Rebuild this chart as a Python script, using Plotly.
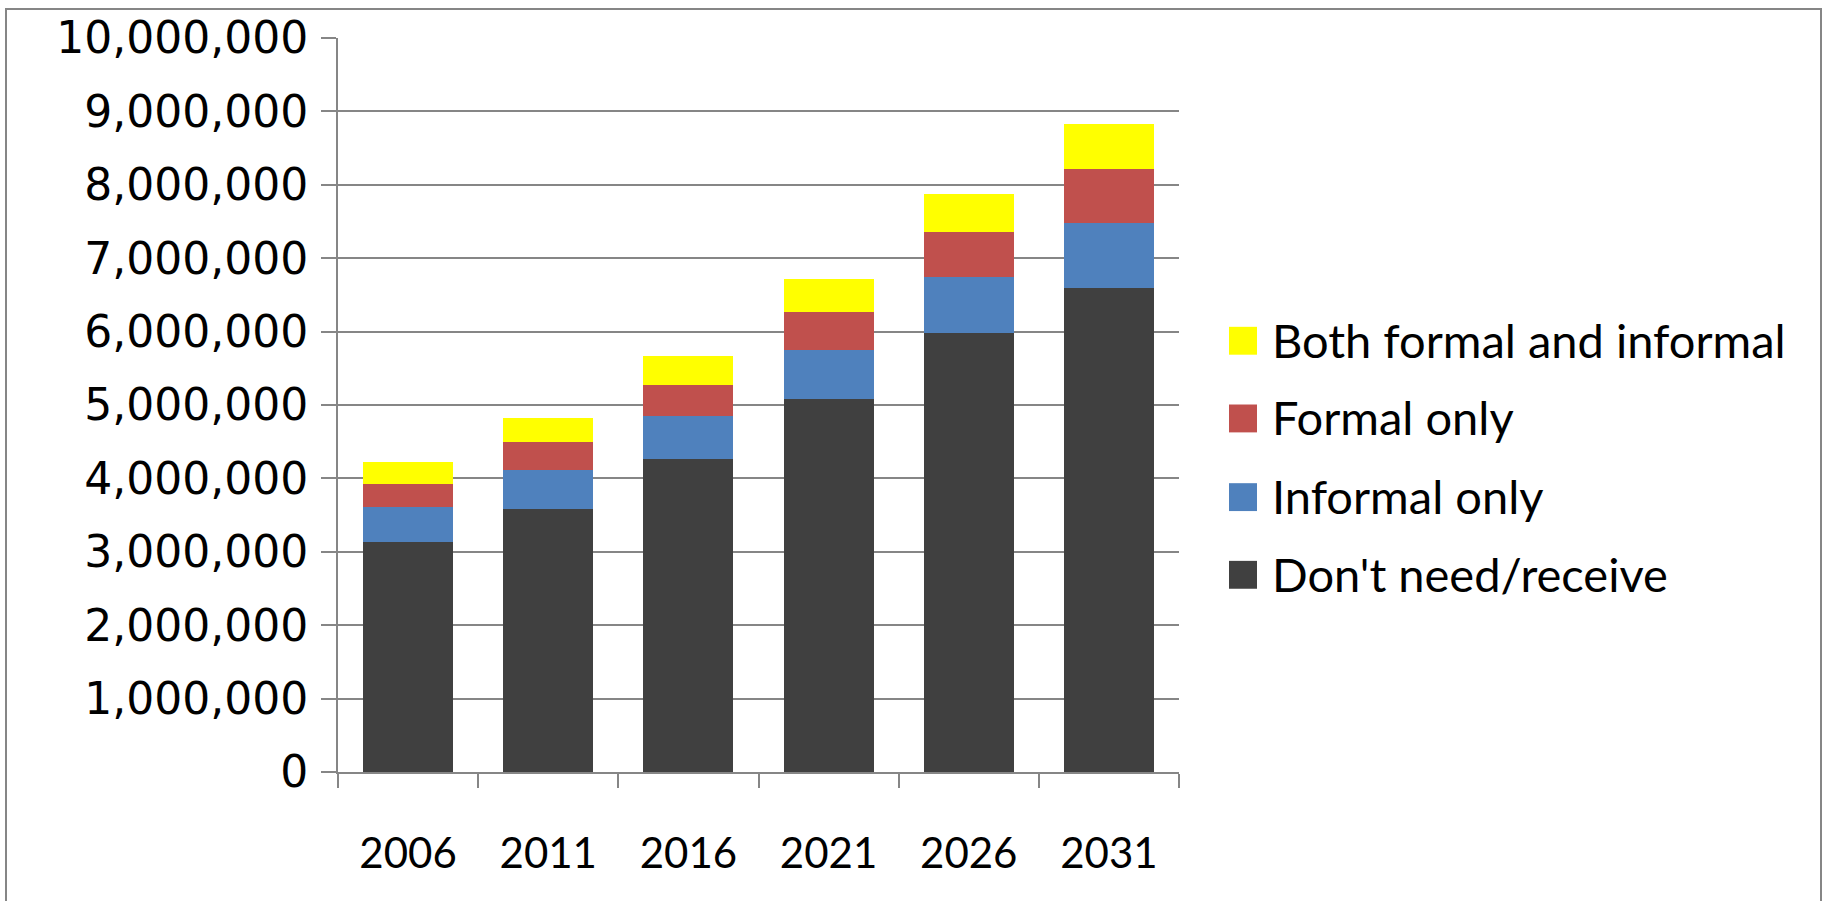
import plotly.graph_objects as go

years = ["2006", "2011", "2016", "2021", "2026", "2031"]
dont_need = [3135000, 3578000, 4258000, 5076000, 5978000, 6595000]
informal_only = [471000, 541000, 596000, 680000, 763000, 881000]
formal_only = [312000, 375000, 423000, 506000, 617000, 735000]
both = [312000, 333000, 396000, 451000, 513000, 617000]

series_names = ["Don't need/receive", "Informal only", "Formal only", "Both formal and informal"]
series_values = [dont_need, informal_only, formal_only, both]
colors = ["#404040", "#4F81BD", "#C0504D", "#FFFF00"]

W, H = 1825, 901
L, R, T, B = 338, 1179, 35, 772
FONT = "Lato"
GRID = "#868686"


def px(x):
    return (x - L) / (R - L)


def py(y):
    return (B - y) / (B - T)


fig = go.Figure()
for name, vals, col in zip(series_names, series_values, colors):
    fig.add_trace(go.Bar(x=years, y=vals, name=name, marker=dict(color=col, line=dict(width=0)),
                         showlegend=False))

shapes = []
annotations = []
# manual legend (top item = last series)
leg_centers = [339, 417, 496, 574]
for i, (name, col) in enumerate(zip(series_names[::-1], colors[::-1])):
    cy = leg_centers[i]
    shapes.append(dict(type="rect", xref="paper", yref="paper",
                       x0=px(1229), x1=px(1257), y0=py(cy + 14), y1=py(cy - 14),
                       fillcolor=col, line=dict(width=0)))
    annotations.append(dict(xref="paper", yref="paper", x=px(1270), y=py(cy - 1),
                            xanchor="left", yanchor="middle", showarrow=False,
                            text=name, font=dict(family=FONT, size=47, color="#000000")))

# outer border
shapes.append(dict(type="rect", xref="paper", yref="paper",
                   x0=px(6), x1=px(1821), y0=py(910), y1=py(6),
                   line=dict(color=GRID, width=2), fillcolor="rgba(0,0,0,0)"))

fig.update_layout(
    width=W, height=H,
    margin=dict(l=L, r=W - R, t=T, b=H - B, pad=0),
    barmode="stack",
    bargap=0.357,
    plot_bgcolor="white",
    paper_bgcolor="white",
    shapes=shapes,
    annotations=annotations,
    showlegend=False,
    xaxis=dict(
        type="category",
        showline=True, linecolor=GRID, linewidth=2,
        ticks="outside", tickson="boundaries", ticklen=14, tickwidth=2, tickcolor=GRID,
        showgrid=False,
        tickfont=dict(family=FONT, size=42, color="#000000"),
        ticklabelstandoff=44,
    ),
    yaxis=dict(
        range=[0, 10000000], dtick=1000000, tickformat=",d",
        showline=True, linecolor=GRID, linewidth=2,
        showgrid=True, gridcolor=GRID, gridwidth=2,
        zeroline=False,
        ticks="outside", ticklen=15, tickwidth=2, tickcolor=GRID,
        tickfont=dict(family="DejaVu Sans", size=44, color="#000000"),
        ticklabelstandoff=4,
    ),
)

fig.write_html("out.html", config={"displayModeBar": False},
               post_script="document.body.style.margin='0';")
